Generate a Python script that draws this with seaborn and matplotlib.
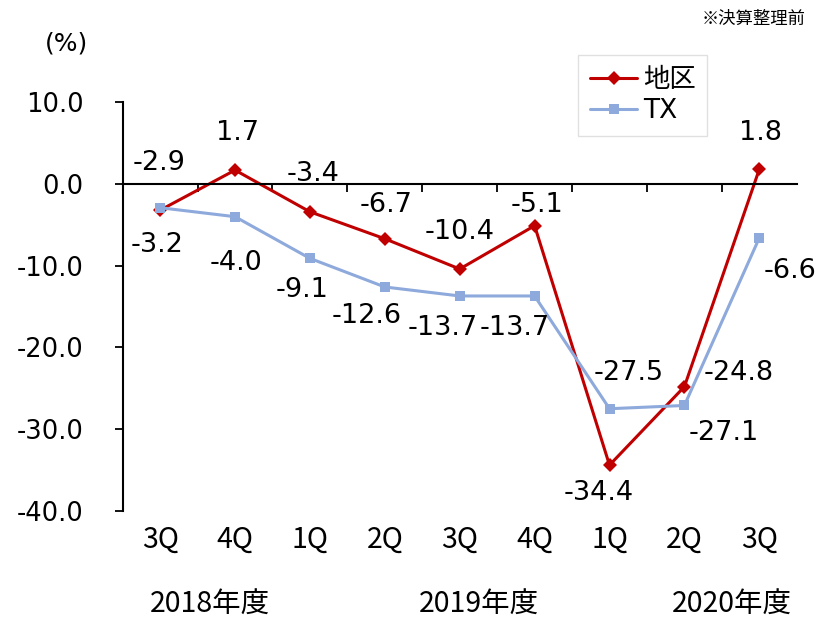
import pandas as pd
import numpy as np
import matplotlib
matplotlib.use("Agg")
import matplotlib.pyplot as plt
import matplotlib.transforms as mtransforms
import seaborn as sns

# data
quarters = ["3Q", "4Q", "1Q", "2Q", "3Q", "4Q", "1Q", "2Q", "3Q"]
years = ["2018年度", "2019年度", "2020年度"]
chiku = [-3.2, 1.7, -3.4, -6.7, -10.4, -5.1, -34.4, -24.8, 1.8]
tx = [-2.9, -4.0, -9.1, -12.6, -13.7, -13.7, -27.5, -27.1, -6.6]

# label offsets (points) for the value labels
chiku_off = [(-2, -25), (2, 27), (2, 27), (1, 24), (0, 27), (2, 15), (-8, -20), (39, 10), (1, 26)]
tx_off = [(-1, 32), (1, -33), (-6, -23), (-13, -21), (-12, -23), (-14, -23), (14, 26), (28, -20), (22, -24)]
year_x = [0.67, 4.25, 7.64]

sns.set_style("white")
plt.rcParams["font.family"] = ["DejaVu Sans", "Noto Sans CJK JP"]
plt.rcParams["text.color"] = "black"
plt.rcParams["xtick.color"] = "black"
plt.rcParams["ytick.color"] = "black"

df = pd.DataFrame({
    "pos": list(range(len(quarters))) * 2,
    "value": chiku + tx,
    "series": ["地区"] * len(chiku) + ["TX"] * len(tx),
})

red = "#C00000"
blue = "#8EA9DB"

fig = plt.figure(figsize=(8.18, 6.2), dpi=100)
ax = fig.add_axes([0.150, 0.176, 0.824, 0.659])

sns.lineplot(data=df, x="pos", y="value", hue="series", style="series",
             markers={"地区": "D", "TX": "s"}, dashes=False,
             palette={"地区": red, "TX": blue}, linewidth=2.2,
             markersize=7, markeredgewidth=0, ax=ax)

ax.set_xlim(-0.5, 8.5)
ax.set_ylim(-40, 10)
ax.set_yticks(np.arange(-40, 11, 10))
ax.set_yticklabels([f"{v:.1f}" for v in np.arange(-40, 11, 10)], fontsize=18.5)
ax.tick_params(axis="y", left=True, direction="out", length=6, width=1.3, pad=22)
ax.set_xlabel("")
ax.set_ylabel("")

for s in ["top", "right"]:
    ax.spines[s].set_visible(False)
ax.spines["left"].set_linewidth(1.5)
ax.spines["left"].set_color("black")
ax.spines["bottom"].set_position(("data", 0))
ax.spines["bottom"].set_linewidth(1.5)
ax.spines["bottom"].set_color("black")
ax.set_xticks(np.arange(0.5, 8.5, 1.0))
ax.set_xticklabels([])
ax.tick_params(axis="x", bottom=True, direction="out", length=6, width=1.3)

trans = mtransforms.blended_transform_factory(ax.transData, ax.transAxes)
for i, q in enumerate(quarters):
    ax.text(i, -0.071, q, transform=trans, ha="center", va="center",
            fontsize=20.5, family=["Noto Sans CJK JP"])
for x, y in zip(year_x, years):
    ax.text(x, -0.23, y, transform=trans, ha="center", va="center",
            fontsize=20.5, family=["Noto Sans CJK JP"])

for i, (v, o) in enumerate(zip(chiku, chiku_off)):
    ax.annotate(f"{v:.1f}", (i, v), xytext=o, textcoords="offset points",
                ha="center", va="center", fontsize=19.5)
for i, (v, o) in enumerate(zip(tx, tx_off)):
    ax.annotate(f"{v:.1f}", (i, v), xytext=o, textcoords="offset points",
                ha="center", va="center", fontsize=19.5)

leg = ax.legend(loc="upper left", bbox_to_anchor=(0.7066, 0.911),
                bbox_transform=fig.transFigure, frameon=True, borderaxespad=0,
                fancybox=False, edgecolor="#D9D9D9", handlelength=1.8,
                handletextpad=0.2, borderpad=0.45, labelspacing=0.2,
                prop={"family": ["DejaVu Sans", "Noto Sans CJK JP"], "size": 19})

fig.text(0.081, 0.93, "(%)", ha="center", va="center", fontsize=18)
fig.text(0.985, 0.97, "※決算整理前", ha="right", va="center", fontsize=12.5,
         family=["Noto Sans CJK JP"])

fig.savefig("out.png", dpi=100)
